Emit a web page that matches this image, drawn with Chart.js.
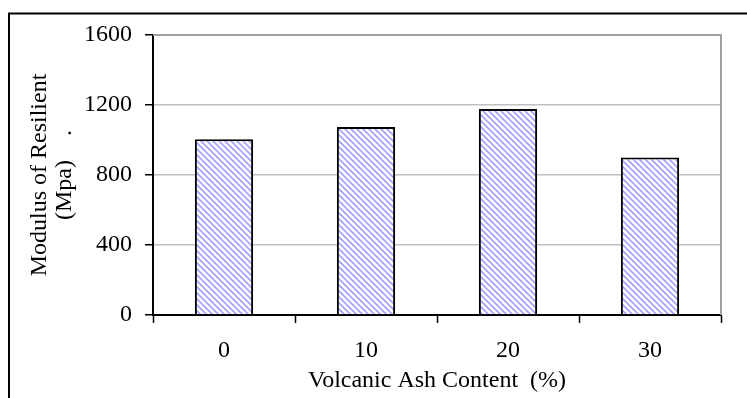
<!DOCTYPE html>
<html>
<head>
<meta charset="utf-8">
<script src="https://cdn.jsdelivr.net/npm/chart.js@4.4.1/dist/chart.umd.min.js"></script>
<style>
  html, body { margin: 0; padding: 0; background: #fff; }
  #wrap { position: relative; width: 747px; height: 398px; }
</style>
</head>
<body>
<div id="wrap"><canvas id="c"></canvas></div>
<script>
// Resilient modulus for each volcanic ash content
const ashContent = ['0', '10', '20', '30'];
const resilientModulus = [1005, 1075, 1177, 900];
const yTicks = [0, 400, 800, 1200, 1600];

// Diagonal hatch fill for the bars
function makeHatch() {
  const s = 6;
  const p = document.createElement('canvas');
  p.width = s; p.height = s;
  const g = p.getContext('2d');
  g.fillStyle = '#ffffff';
  g.fillRect(0, 0, s, s);
  g.strokeStyle = 'rgb(165,165,255)';
  g.lineWidth = 1.8;
  g.beginPath();
  g.moveTo(-s / 2, -s / 2); g.lineTo(s * 1.5, s * 1.5);
  g.moveTo(-s / 2, s / 2); g.lineTo(s / 2, s * 1.5);
  g.moveTo(s / 2, -s / 2); g.lineTo(s * 1.5, s / 2);
  g.stroke();
  return g.createPattern(p, 'repeat');
}

// Plot-area top/right edges and the outer frame
const frames = {
  id: 'frames',
  beforeDatasetsDraw(chart) {
    const { ctx, chartArea: a } = chart;
    ctx.save();
    ctx.strokeStyle = '#a0a0a0';
    ctx.lineWidth = 2;
    ctx.beginPath();
    ctx.moveTo(a.left, a.top);
    ctx.lineTo(a.right, a.top);
    ctx.lineTo(a.right, a.bottom);
    ctx.stroke();
    ctx.restore();
  },
  afterDraw(chart) {
    const { ctx } = chart;
    ctx.save();
    ctx.strokeStyle = '#000';
    ctx.lineWidth = 2;
    ctx.strokeRect(9, 13.5, 800, 500);
    ctx.restore();
  }
};

const serif = "'Liberation Serif', 'Times New Roman', serif";

new Chart(document.getElementById('c'), {
  type: 'bar',
  data: {
    labels: ashContent,
    datasets: [{
      data: resilientModulus,
      backgroundColor: makeHatch(),
      borderColor: '#000',
      borderWidth: 2,
      borderSkipped: 'bottom',
      barPercentage: 0.41,
      categoryPercentage: 1
    }]
  },
  options: {
    responsive: true,
    maintainAspectRatio: false,
    animation: false,
    layout: { padding: { top: 35, right: 26, bottom: 0, left: 0 } },
    plugins: { legend: { display: false }, tooltip: { enabled: false } },
    scales: {
      x: {
        offset: true,
        afterFit(scale) { scale.height = 83; },
        border: { display: true, color: '#000', width: 2 },
        grid: {
          display: true, drawOnChartArea: false, offset: true,
          drawTicks: true, tickLength: 8, tickColor: '#000', tickWidth: 1.5
        },
        ticks: { color: '#000', padding: 13, font: { family: serif, size: 24 } },
        title: {
          display: true,
          text: 'Volcanic Ash Content  (%)',
          color: '#000',
          font: { family: serif, size: 24 },
          padding: { top: 0, bottom: 3 }
        }
      },
      y: {
        min: 0, max: 1600,
        afterFit(scale) { scale.width = 153; },
        afterBuildTicks(scale) { scale.ticks = yTicks.map(v => ({ value: v })); },
        border: { display: true, color: '#000', width: 2 },
        grid: {
          color: '#c0c0c0', lineWidth: 1.5,
          drawTicks: true, tickLength: 8, tickColor: '#000', tickWidth: 1.5
        },
        ticks: {
          color: '#000', padding: 13, font: { family: serif, size: 24 },
          callback: v => String(v)
        },
        title: {
          display: true,
          text: ['Modulus of Resilient', '(Mpa)    .'],
          color: '#000',
          font: { family: serif, size: 24, lineHeight: 1.05 },
          padding: { top: 27, bottom: 0 }
        }
      }
    }
  },
  plugins: [frames]
});
</script>
</body>
</html>
